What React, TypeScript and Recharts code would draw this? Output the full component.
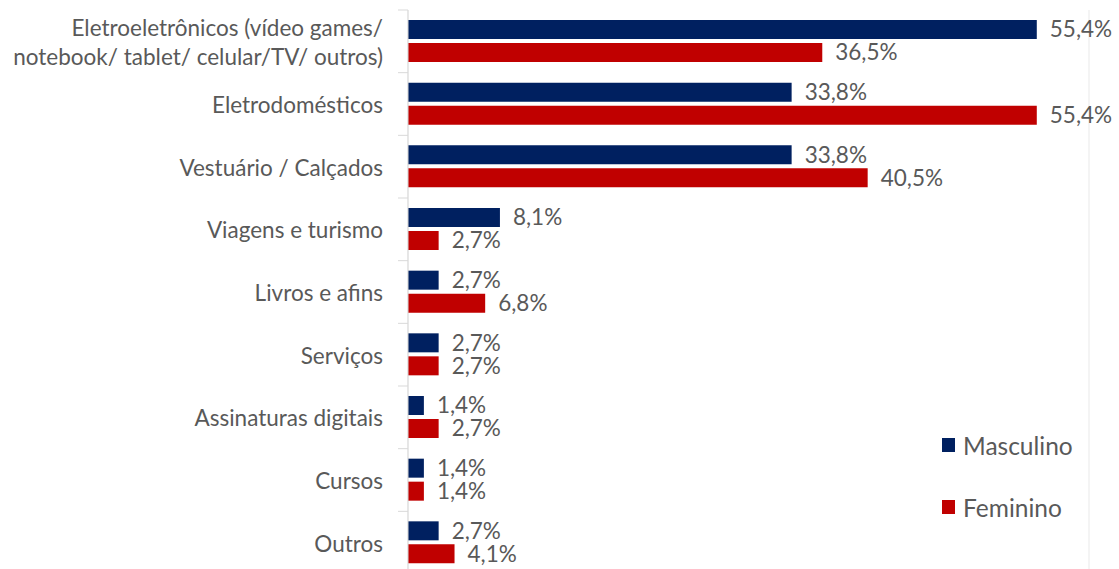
import { BarChart, Bar, XAxis, YAxis, CartesianGrid, Legend, LabelList } from "recharts"

const categories = [
  "Eletroeletrônicos (vídeo games/\nnotebook/ tablet/ celular/TV/ outros)",
  "Eletrodomésticos",
  "Vestuário / Calçados",
  "Viagens e turismo",
  "Livros e afins",
  "Serviços",
  "Assinaturas digitais",
  "Cursos",
  "Outros",
]
const masculino = [55.4, 33.8, 33.8, 8.1, 2.7, 2.7, 1.4, 1.4, 2.7]
const feminino = [36.5, 55.4, 40.5, 2.7, 6.8, 2.7, 2.7, 1.4, 4.1]
const seriesNames = ["Masculino", "Feminino"]
const xTicks = [0, 10, 20, 30, 40, 50, 60]

const data = categories.map((c, i) => ({
  category: c,
  masculino: masculino[i],
  feminino: feminino[i],
}))

const WIDTH = 1119
const HEIGHT = 580
const MARGIN = { top: 10, right: 30, bottom: 6, left: 0 }
const AXIS_W = 408
const BAND = (HEIGHT - MARGIN.top - MARGIN.bottom) / categories.length
const FONT = "Lato, 'Open Sans', sans-serif"
const TEXT = "#595959"
const FS = 22.5

const fmt = (v: any) => `${Number(v).toFixed(1).replace(".", ",")}%`

function CategoryTick(props: any) {
  const { y, payload, index } = props
  const lines = String(payload.value).split("\n")
  const lh = 29
  const axisX = MARGIN.left + AXIS_W
  return (
    <g>
      <line x1={axisX - 10} x2={axisX} y1={y - BAND / 2} y2={y - BAND / 2} stroke="#d9d9d9" />
      {index === categories.length - 1 && (
        <line x1={axisX - 10} x2={axisX} y1={y + BAND / 2} y2={y + BAND / 2} stroke="#d9d9d9" />
      )}
      <text
        x={axisX - 25}
        y={y - ((lines.length - 1) * lh) / 2}
        textAnchor="end"
        dominantBaseline="central"
        fill={TEXT}
        fontSize={FS}
        fontFamily={FONT}
      >
        {lines.map((l, i) => (
          <tspan key={i} x={axisX - 25} dy={i === 0 ? 0 : lh}>
            {l}
          </tspan>
        ))}
      </text>
    </g>
  )
}

function LegendContent(props: any) {
  const items = [...(props.payload || [])].sort(
    (a: any, b: any) => seriesNames.indexOf(a.value) - seriesNames.indexOf(b.value)
  )
  return (
    <div style={{ display: "flex", flexDirection: "column" }}>
      {items.map((p: any) => (
        <div key={p.value} style={{ display: "flex", alignItems: "center", height: 62 }}>
          <span style={{ display: "inline-block", width: 13, height: 14, background: p.color, marginRight: 8 }} />
          <span style={{ fontFamily: FONT, fontSize: 24.5, color: TEXT }}>{p.value}</span>
        </div>
      ))}
    </div>
  )
}

export default function App() {
  return (
    <div style={{ position: "absolute", left: 0, top: 0, background: "#fff" }}>
      <BarChart
        width={WIDTH}
        height={HEIGHT}
        data={data}
        layout="vertical"
        margin={MARGIN}
        barSize={19}
        barGap={4}
      >
        <CartesianGrid horizontal={false} stroke="#e9e9e9" />
        <XAxis
          type="number"
          domain={[0, 60]}
          ticks={xTicks}
          axisLine={false}
          tickLine={false}
          tick={false}
          height={0}
        />
        <YAxis
          type="category"
          dataKey="category"
          width={AXIS_W}
          interval={0}
          axisLine={{ stroke: "#d9d9d9" }}
          tickLine={false}
          tick={<CategoryTick />}
        />
        <Legend
          layout="vertical"
          align="center"
          verticalAlign="middle"
          content={<LegendContent />}
          wrapperStyle={{ left: 942, top: 414, width: "auto" }}
        />
        <Bar dataKey="masculino" name="Masculino" fill="#002060" isAnimationActive={false}>
          <LabelList dataKey="masculino" position="right" offset={13} formatter={fmt} fill={TEXT} fontSize={FS} fontFamily={FONT} />
        </Bar>
        <Bar dataKey="feminino" name="Feminino" fill="#C00000" isAnimationActive={false}>
          <LabelList dataKey="feminino" position="right" offset={13} formatter={fmt} fill={TEXT} fontSize={FS} fontFamily={FONT} />
        </Bar>
      </BarChart>
    </div>
  )
}
